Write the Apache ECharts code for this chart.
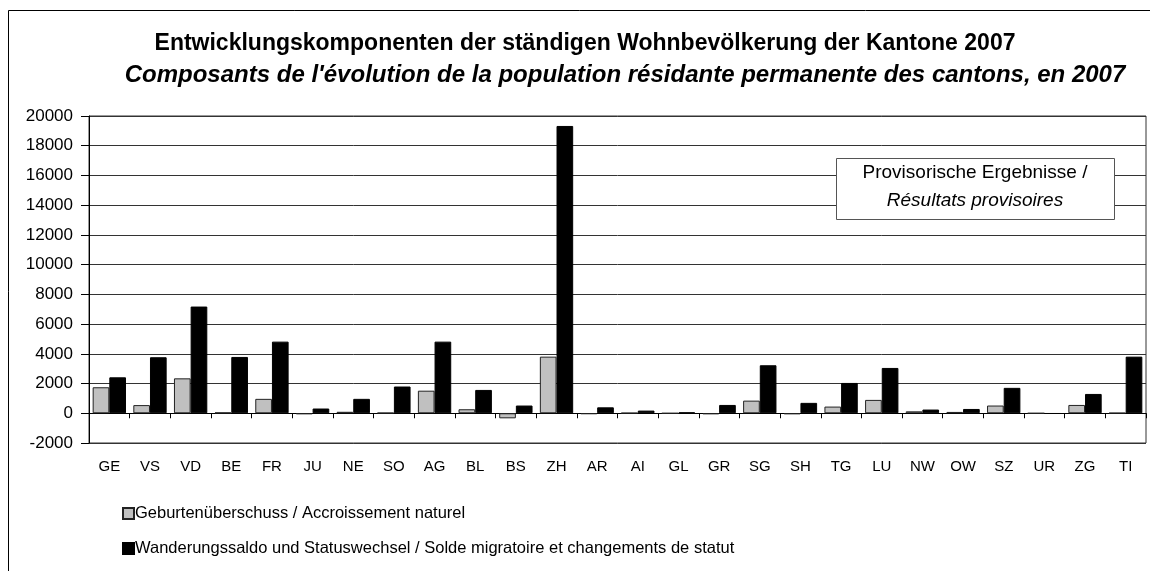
<!DOCTYPE html>
<html>
<head>
<meta charset="utf-8">
<script src="https://cdn.jsdelivr.net/npm/echarts@6/dist/echarts.min.js"></script>
<style>
html,body{margin:0;padding:0;background:#fff;}
#chart{width:1150px;height:571px;}
</style>
</head>
<body>
<div id="chart"></div>
<script>
const categories = ['GE','VS','VD','BE','FR','JU','NE','SO','AG','BL','BS','ZH','AR','AI','GL','GR','SG','SH','TG','LU','NW','OW','SZ','UR','ZG','TI'];
const naturalIncrease = [1750, 550, 2350, 50, 970, -60, 100, 30, 1520, 270, -340, 3810, -50, 20, 0, -60, 850, -60, 450, 900, 130, 90, 520, 0, 560, 20];
const migrationBalance = [2420, 3770, 7180, 3790, 4820, 320, 970, 1800, 4820, 1570, 520, 19330, 400, 180, 60, 560, 3230, 700, 2040, 3050, 250, 290, 1710, -30, 1300, 3810];
const seriesNames = ['Geburtenüberschuss / Accroissement naturel', 'Wanderungssaldo und Statuswechsel / Solde migratoire et changements de statut'];
const titleLines = ['Entwicklungskomponenten der ständigen Wohnbevölkerung der Kantone 2007', "Composants de l'évolution de la population résidante permanente des cantons, en 2007"];
const noteLines = ['Provisorische Ergebnisse /', 'Résultats provisoires'];
const yMin = -2000, yMax = 20000, yStep = 2000;

const FONT = '"Liberation Sans", Arial, sans-serif';
const chart = echarts.init(document.getElementById('chart'), null, {renderer: 'canvas'});
chart.setOption({
  animation: false,
  backgroundColor: '#fff',
  textStyle: {fontFamily: FONT},
  title: [
    {text: titleLines[0], left: 580, top: 27, textAlign: 'center',
     textStyle: {fontFamily: FONT, fontSize: 23, fontWeight: 'bold', color: '#000'}},
    {text: titleLines[1], left: 620, top: 58, textAlign: 'center',
     textStyle: {fontFamily: FONT, fontSize: 24, fontWeight: 'bold', fontStyle: 'italic', color: '#000'}}
  ],
  grid: {left: 89, right: 4, top: 116, bottom: 128, show: true, borderColor: '#333', borderWidth: 1, containLabel: false},
  legend: {
    orient: 'vertical', left: 117, top: 500, itemGap: 18, itemWidth: 11, itemHeight: 11,
    icon: 'rect', selectedMode: false,
    textStyle: {fontFamily: FONT, fontSize: 16.5, color: '#000', padding: [0,0,0,-4]},
    data: seriesNames
  },
  xAxis: {type: 'category', data: categories, position: 'bottom',
     axisLine: {onZero: true, lineStyle: {color: '#000', width: 1}},
     axisTick: {show: true, inside: false, length: 5, lineStyle: {color: '#000'}},
     axisLabel: {margin: 16, fontFamily: FONT, fontSize: 15, color: '#000', interval: 0},
     splitLine: {show: false}},
  yAxis: {
    type: 'value', min: yMin, max: yMax, interval: yStep,
    axisLine: {show: true, lineStyle: {color: '#000'}},
    axisTick: {show: true, inside: false, length: 8, lineStyle: {color: '#000'}},
    axisLabel: {margin: 16, fontFamily: FONT, fontSize: 17, color: '#000', formatter: v => String(v)},
    splitLine: {show: true, lineStyle: {color: '#333', width: 1}}
  },
  series: [
    {name: seriesNames[0], type: 'bar', data: naturalIncrease,
     barGap: '0%', barCategoryGap: '18%',
     itemStyle: {color: '#C0C0C0', borderColor: '#222', borderWidth: 1}},
    {name: seriesNames[1], type: 'bar', data: migrationBalance,
     barGap: '0%', barCategoryGap: '18%',
     itemStyle: {color: '#000', borderColor: '#000', borderWidth: 1}}
  ],
  graphic: [
    {type: 'rect', silent: true, z: -1, shape: {x: 8.5, y: 10.5, width: 1200, height: 700},
     style: {fill: 'none', stroke: '#000', lineWidth: 1}},
    {type: 'rect', z: 100, silent: true, shape: {x: 836.5, y: 158.5, width: 278, height: 61},
     style: {fill: '#fff', stroke: '#555', lineWidth: 1}},
    {type: 'text', z: 101, silent: true, style: {text: noteLines[0], x: 975, y: 173, align: 'center', verticalAlign: 'middle', fill: '#000', font: '19px ' + FONT}},
    {type: 'text', z: 101, silent: true, style: {text: noteLines[1], x: 975, y: 201, align: 'center', verticalAlign: 'middle', fill: '#000', font: 'italic 19px ' + FONT}}
  ]
});
</script>
</body>
</html>
